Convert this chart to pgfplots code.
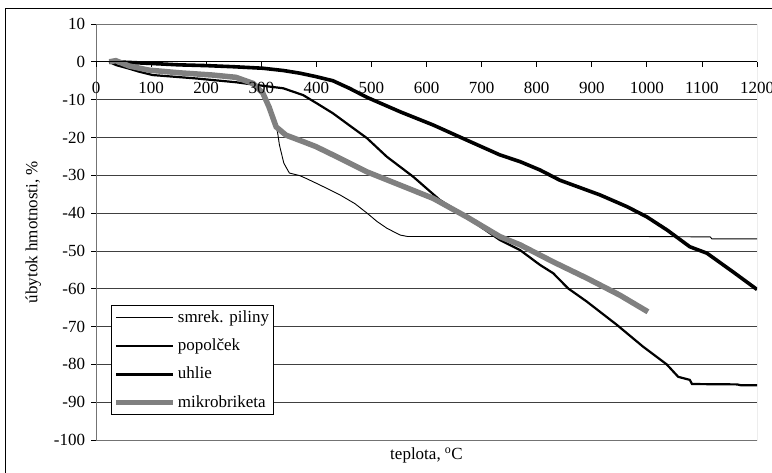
\documentclass[border=0pt]{standalone}
\usepackage{fontspec}
\setmainfont{Liberation Serif}
\usepackage{pgfplots}
\pgfplotsset{compat=1.18}
\definecolor{briketa}{RGB}{128,128,128}
\begin{document}
\fontsize{17}{20}\selectfont
\begin{tikzpicture}
\useasboundingbox (0,0) rectangle (772pt,472pt);
\draw[line width=1pt] (5pt,-20pt) rectangle (790pt,463pt);
\begin{axis}[
  at={(96pt,32pt)}, anchor=south west,
  width=661pt, height=416pt, scale only axis,
  xmin=0, xmax=1200, ymin=-100, ymax=10,
  axis x line*=middle, axis y line*=left,
  axis line style={black, line width=0.8pt},
  xtick=\empty, ytick={-100,-90,...,10},
  tick align=outside, major tick length=5pt,
  tick style={black, line width=0.8pt},
  ymajorgrids, grid style={black!75, line width=0.7pt},
  /pgf/number format/assume math mode=true,
  /pgf/number format/1000 sep={},
  every tick label/.append style={font=\fontsize{17}{20}\selectfont},
  xlabel={teplota, $^{\mathrm{o}}$C},
  ylabel={úbytok hmotnosti, \%},
  label style={font=\fontsize{17}{20}\selectfont},
  xlabel style={at={(axis description cs:0.5,-0.038)}, anchor=center},
  ylabel style={at={(axis description cs:-0.095,0.5)}, anchor=center},
  legend style={at={(axis description cs:0.0227,0.3245)}, anchor=north west,
    draw=black, line width=0.8pt, fill=white, font=\fontsize{17}{20}\selectfont,
    inner xsep=2pt, inner ysep=3pt, row sep=10pt},
  legend cell align=left,
  legend image code/.code={\draw[#1] (0pt,0pt) -- (57pt,0pt);},
]
\draw[black!55, line width=0.8pt] (rel axis cs:0,0) rectangle (rel axis cs:1,1);
\addplot[black, line width=0.9pt] coordinates {
(24,0) (40,-0.3) (60,-1.3) (96,-2.5) (150,-3.0) (212,-3.5) (254,-4.2) (285,-5.5)
(305,-8.5) (318,-12) (327,-17) (330,-19) (333,-22) (341,-26.8) (351,-29.4) (370,-30.1)
(381,-30.8) (407,-32.6) (443,-35.2) (470,-37.5) (492,-40) (510,-42.2) (528,-44)
(552,-45.8) (566,-46.2) (1000,-46.2) (1115,-46.3) (1118,-46.8) (1200,-46.8)};
\addlegendentry{smrek. piliny}
\addplot[black, line width=2.2pt] coordinates {
(24,0) (36,-0.85) (60,-1.8) (78,-2.6) (103,-3.5) (182,-4.4) (254,-5.4) (290,-6.1)
(340,-7) (376,-8.8) (400,-10.9) (430,-13.6) (460,-16.8) (492,-20.2) (528,-25.1)
(576,-30.4) (624,-36.5) (667,-40.5) (700,-43.8) (733,-47.1) (770,-49.8) (806,-53.7)
(830,-55.9) (857,-59.9) (891,-63.4) (946,-69.6) (993,-75.3) (1036,-80) (1057,-83.3)
(1078,-84.1) (1082,-85.2) (1164,-85.3) (1170,-85.5) (1200,-85.5)};
\addlegendentry{popolček}
\addplot[black, line width=3.6pt] coordinates {
(24,0) (50,-0.1) (96,-0.4) (150,-0.8) (200,-1.0) (250,-1.3) (303,-1.7) (340,-2.3)
(370,-3.0) (399,-3.9) (430,-5) (460,-7) (492,-9.4) (552,-13.2) (612,-16.7) (673,-20.7)
(733,-24.6) (770,-26.4) (806,-28.6) (842,-31.3) (915,-35.2) (964,-38.3) (1000,-41)
(1037,-44.5) (1078,-48.9) (1109,-50.6) (1156,-55.5) (1200,-60.2)};
\addlegendentry{uhlie}
\addplot[briketa, line width=5.5pt] coordinates {
(24,0) (36,0.3) (60,-1.1) (96,-2.2) (151,-2.9) (212,-3.5) (254,-4.1) (285,-5.7)
(303,-8.3) (314,-11.9) (327,-17.2) (345,-19.4) (376,-21.1) (399,-22.4) (430,-24.6)
(492,-29.1) (552,-32.6) (612,-36.1) (673,-41) (733,-46.2) (770,-48.4) (830,-52.9)
(891,-57.2) (951,-61.7) (1002,-66.1)};
\addlegendentry{mikrobriketa}
\end{axis}
\begin{axis}[
  at={(96pt,410.18pt)}, anchor=south west,
  width=661pt, height=37.82pt, scale only axis,
  xmin=0, xmax=1200, ymin=0, ymax=10,
  axis x line*=bottom, axis y line=none,
  axis line style={black, line width=0.8pt},
  xtick={0,100,...,1200},
  tick align=outside, major tick length=5pt,
  tick style={black, line width=0.8pt},
  /pgf/number format/assume math mode=true,
  /pgf/number format/1000 sep={},
  every tick label/.append style={font=\fontsize{17}{20}\selectfont},
  xticklabel style={yshift=-10pt},
]
\end{axis}
\end{tikzpicture}
\end{document}
